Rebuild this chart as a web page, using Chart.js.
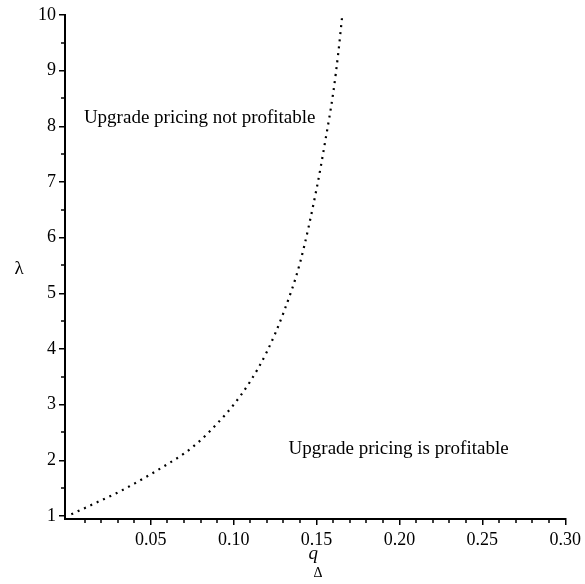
<!DOCTYPE html>
<html>
<head>
<meta charset="utf-8">
<script src="https://cdn.jsdelivr.net/npm/chart.js@4"></script>
<style>
  html, body { margin: 0; padding: 0; background: #fff; }
  #wrap { width: 585px; height: 584px; }
</style>
</head>
<body>
<div id="wrap"><canvas id="chart" width="585" height="584"></canvas></div>
<script>
// Curve: q_delta vs lambda
const qValues = [0.002, 0.01, 0.02, 0.03, 0.04, 0.05, 0.06, 0.07, 0.08, 0.09, 0.10, 0.11, 0.12, 0.13, 0.14, 0.15, 0.155, 0.16, 0.163, 0.1655];
const lambdaValues = [1.03, 1.14, 1.28, 1.42, 1.58, 1.75, 1.93, 2.12, 2.36, 2.66, 3.00, 3.42, 3.95, 4.65, 5.55, 6.88, 7.70, 8.60, 9.30, 10.0];

// Tick labels
const xTicks = [0.05, 0.10, 0.15, 0.20, 0.25, 0.30];
const yTicks = [1, 2, 3, 4, 5, 6, 7, 8, 9, 10];
const xMinor = [0.01, 0.02, 0.03, 0.04, 0.06, 0.07, 0.08, 0.09, 0.11, 0.12, 0.13, 0.14, 0.16, 0.17, 0.18, 0.19, 0.21, 0.22, 0.23, 0.24, 0.26, 0.27, 0.28, 0.29];
const yMinor = [1.5, 2.5, 3.5, 4.5, 5.5, 6.5, 7.5, 8.5, 9.5];

// Region labels (data coordinates)
const notes = [
    { text: 'Upgrade pricing not profitable', q: 0.0096, l: 8.15 },
    { text: 'Upgrade pricing is profitable', q: 0.1331, l: 2.20 }
];

const serif = '"Liberation Serif", "Times New Roman", serif';

let points = qValues.map((q, i) => ({ x: q, y: lambdaValues[i] }));

// Minor ticks, axis titles and region text
const extras = {
    id: 'extras',
    afterDraw(chart) {
        const ctx = chart.ctx;
        const xs = chart.scales.x, ys = chart.scales.y;
        const area = chart.chartArea;
        ctx.save();
        ctx.strokeStyle = '#000';
        ctx.lineWidth = 1.5;
        ctx.beginPath();
        for (const v of xMinor) {
            let px = Math.round(xs.getPixelForValue(v));
            ctx.moveTo(px, area.bottom);
            ctx.lineTo(px, area.bottom + 4);
        }
        for (const v of yMinor) {
            let py = Math.round(ys.getPixelForValue(v));
            ctx.moveTo(area.left, py);
            ctx.lineTo(area.left - 4, py);
        }
        ctx.stroke();

        ctx.fillStyle = '#000';
        ctx.font = '19px ' + serif;
        ctx.textAlign = 'left';
        ctx.textBaseline = 'middle';
        for (const n of notes) {
            ctx.fillText(n.text, xs.getPixelForValue(n.q), ys.getPixelForValue(n.l));
        }

        // y title: lambda, upright
        ctx.textAlign = 'center';
        ctx.font = '19px ' + serif;
        ctx.fillText('λ', 19, (area.top + area.bottom) / 2 + 2);

        // x title: q with subscript Delta
        let cx = (area.left + area.right) / 2;
        ctx.textBaseline = 'alphabetic';
        ctx.font = 'italic 19px ' + serif;
        ctx.fillText('q', cx - 2, 559);
        ctx.font = '14px ' + serif;
        ctx.fillText('Δ', cx + 3, 577);
        ctx.restore();
    }
};

new Chart(document.getElementById('chart').getContext('2d'), {
    type: 'line',
    data: {
        datasets: [{
            data: points,
            borderColor: '#000',
            borderWidth: 2.2,
            borderDash: [2, 5],
            pointRadius: 0,
            cubicInterpolationMode: 'monotone',
            fill: false
        }]
    },
    plugins: [extras],
    options: {
        responsive: false,
        animation: false,
        layout: { padding: { top: 15, right: 19, bottom: 0, left: 0 } },
        plugins: {
            legend: { display: false },
            tooltip: { enabled: false }
        },
        scales: {
            x: {
                type: 'linear',
                min: -0.0018,
                max: 0.30,
                afterBuildTicks: (s) => { s.ticks = xTicks.map(v => ({ value: v })); },
                afterFit: (s) => { s.height = 65; },
                border: { display: true, color: '#000', width: 2 },
                grid: { display: true, drawOnChartArea: false, tickLength: 6, color: '#000', lineWidth: 1.5 },
                ticks: {
                    color: '#000',
                    padding: 4,
                    maxRotation: 0,
                    font: { family: serif, size: 18 },
                    callback: (v) => v.toFixed(2)
                }
            },
            y: {
                type: 'linear',
                min: 0.945,
                max: 10,
                afterBuildTicks: (s) => { s.ticks = yTicks.map(v => ({ value: v })); },
                afterFit: (s) => { s.width = 65; },
                border: { display: true, color: '#000', width: 2 },
                grid: { display: true, drawOnChartArea: false, tickLength: 6, color: '#000', lineWidth: 1.5 },
                ticks: {
                    color: '#000',
                    padding: 3,
                    font: { family: serif, size: 18 },
                    callback: (v) => String(v)
                }
            }
        }
    }
});
</script>
</body>
</html>
